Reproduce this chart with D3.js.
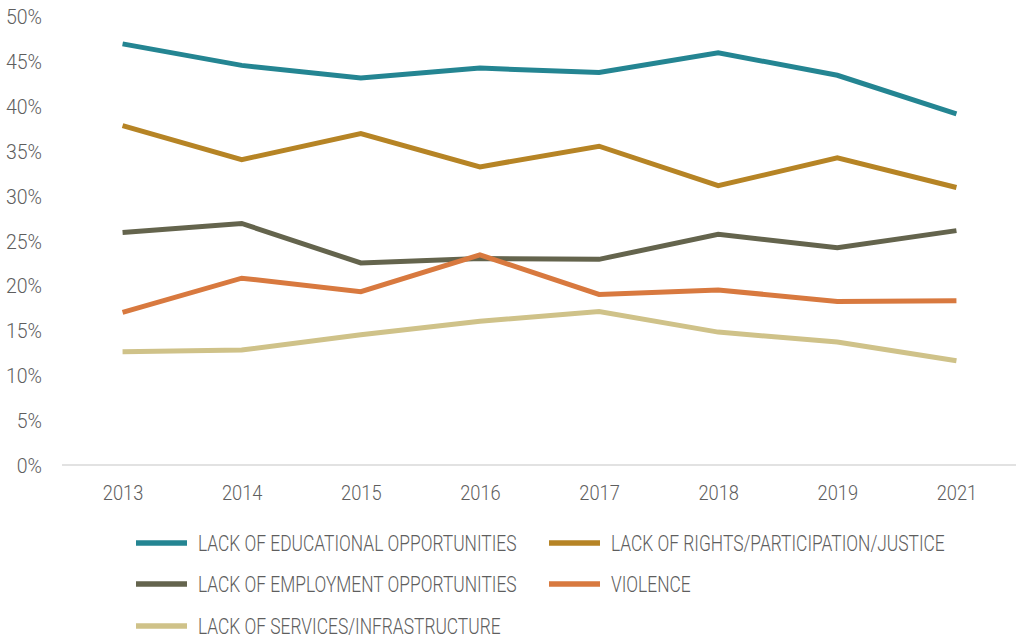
<!DOCTYPE html>
<html>
<head>
<meta charset="utf-8">
<script src="https://cdn.jsdelivr.net/npm/d3@7"></script>
<style>
  html, body { margin: 0; padding: 0; background: #ffffff; }
  svg { display: block; }
  text { font-family: Roboto, "Noto Sans", sans-serif; font-weight: 300; fill: #5e5e5e; }
</style>
</head>
<body>
<svg id="chart" width="1016" height="638"></svg>
<script>
const years = ["2013", "2014", "2015", "2016", "2017", "2018", "2019", "2021"];
const yTicks = [0, 5, 10, 15, 20, 25, 30, 35, 40, 45, 50];

const seriesNames = [
  "LACK OF EDUCATIONAL OPPORTUNITIES",
  "LACK OF RIGHTS/PARTICIPATION/JUSTICE",
  "LACK OF EMPLOYMENT OPPORTUNITIES",
  "VIOLENCE",
  "LACK OF SERVICES/INFRASTRUCTURE"
];
const educational = [46.9, 44.5, 43.1, 44.2, 43.7, 45.9, 43.4, 39.1];
const rights      = [37.8, 34.0, 36.9, 33.2, 35.5, 31.1, 34.2, 30.9];
const employment  = [25.9, 26.9, 22.5, 23.0, 22.9, 25.7, 24.2, 26.1];
const violence    = [17.0, 20.8, 19.3, 23.4, 19.0, 19.5, 18.2, 18.3];
const services    = [12.6, 12.8, 14.5, 16.0, 17.1, 14.8, 13.7, 11.6];
const colors = ["#248592", "#b68425", "#64644d", "#d8793f", "#cfc289"];

const seriesValues = [educational, rights, employment, violence, services];

const svg = d3.select("#chart");

const x = d3.scalePoint().domain(years).range([63, 1016]).padding(0.5);
const y = d3.scaleLinear().domain([0, 50]).range([465, 16]);

// narrow lettering: squeeze text horizontally about its anchor
const tickSqueeze = 0.93;
const yearSqueeze = 0.87;
const legendSqueeze = 0.79;

// baseline along 0%
svg.append("line")
  .attr("x1", 62).attr("x2", 1016)
  .attr("y1", y(0)).attr("y2", y(0))
  .attr("stroke", "#d9d9d9").attr("stroke-width", 1.5);

// y axis labels
const yAxis = d3.axisLeft(y).tickValues(yTicks).tickFormat(d => d + "%").tickSize(0).tickPadding(0);
const gy = svg.append("g").attr("transform", "translate(42,0)").call(yAxis);
gy.attr("font-family", null).attr("font-size", null);
gy.select(".domain").remove();
gy.selectAll("text")
  .style("font-size", "21px").attr("dy", "0.36em")
  .attr("transform", `scale(${tickSqueeze},1)`);

// x axis labels
const xAxis = d3.axisBottom(x).tickSize(0).tickPadding(0);
const gx = svg.append("g").attr("transform", "translate(0,485)").call(xAxis);
gx.attr("font-family", null).attr("font-size", null);
gx.select(".domain").remove();
gx.selectAll("text")
  .style("font-size", "21px").attr("dy", "0.71em")
  .attr("transform", `scale(${yearSqueeze},1)`);

// series lines
const line = d3.line().x((d, i) => x(years[i])).y(d => y(d));
seriesValues.forEach((vals, k) => {
  svg.append("path")
    .datum(vals)
    .attr("d", line)
    .attr("fill", "none")
    .attr("stroke", colors[k])
    .attr("stroke-width", 5)
    .attr("stroke-linejoin", "miter");
});

// legend
const legendPos = [[136, 543], [549, 543], [136, 584], [549, 584], [136, 626]];
seriesNames.forEach((name, k) => {
  const [lx, ly] = legendPos[k];
  const g = svg.append("g").attr("transform", `translate(${lx},${ly})`);
  g.append("rect").attr("x", 0).attr("y", -2.75).attr("width", 51).attr("height", 5.5).attr("fill", colors[k]);
  g.append("text")
    .attr("transform", `translate(62,0) scale(${legendSqueeze},1)`)
    .attr("dy", "0.36em")
    .style("font-size", "22px").text(name);
});
</script>
</body>
</html>
